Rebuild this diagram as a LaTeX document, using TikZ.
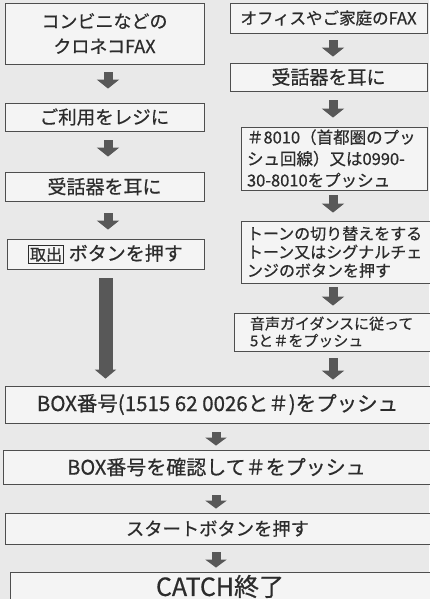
\documentclass[tikz,border=0pt]{standalone}
\usepackage{fontspec}
\setmainfont{Noto Sans CJK JP}[FakeBold=0.6]
\usetikzlibrary{calc,arrows.meta}
\definecolor{paper}{HTML}{E9E9E9}
\definecolor{boxfill}{HTML}{F4F4F4}
\definecolor{boxline}{HTML}{4E4E4E}
\definecolor{ink}{HTML}{2C2C2C}
\definecolor{arrowc}{HTML}{585858}
\tikzset{
  fbox/.style={draw=boxline, line width=0.8pt, fill=boxfill, text=ink, inner sep=0pt, align=center},
  lbox/.style={draw=boxline, line width=0.8pt, fill=boxfill, text=ink, inner xsep=6pt, inner ysep=0pt, align=left},
  sarrow/.style={draw=arrowc, line width=9pt, -{Triangle[width=22pt,length=9pt]}},
  barrow/.style={draw=arrowc, line width=9pt, -{Triangle[width=21pt,length=8pt]}},
  larrow/.style={draw=arrowc, line width=14pt, -{Triangle[width=21pt,length=9pt]}},
}
\newcommand{\fsz}[2]{\fontsize{#1}{#2}\selectfont}
\begin{document}
\begin{tikzpicture}[x=1pt,y=-1pt]
\useasboundingbox[fill=paper] (0,0) rectangle (429,599);
\coordinate (lx) at (108,0);
\coordinate (rx) at (333,0);
\coordinate (bx) at (216,0);
% left column
\node[fbox, minimum width=199pt, minimum height=61pt, font=\fsz{18}{25}] (L1) at (104.5,33.5) {コンビニなどの\\クロネコFAX};
\node[fbox, minimum width=199pt, minimum height=28pt, font=\fsz{18.5}{22}] (L2) at (104.5,117) {ご利用をレジに};
\node[fbox, minimum width=199pt, minimum height=29pt, font=\fsz{19}{22}] (L3) at (104.5,186.5) {受話器を耳に};
\node[fbox, minimum width=197pt, minimum height=30pt, font=\fsz{19}{22}] (L4) at (105.5,254) {{\fsz{16}{18}\setlength{\fboxsep}{1.2pt}\setlength{\fboxrule}{0.6pt}\fbox{取出}}\hspace{5pt}ボタンを押す};
% right column
\node[fbox, minimum width=197pt, minimum height=30pt, font=\fsz{16.5}{20}] (R1) at (328.5,18) {オフィスやご家庭のFAX};
\node[fbox, minimum width=197pt, minimum height=28pt, font=\fsz{19}{22}] (R2) at (328.5,77) {受話器を耳に};
\node[lbox, text width=174pt, minimum height=63pt, font=\fsz{16.5}{21.5}] (R3) at (334,158.5) {＃8010（首都圏のプッ\\シュ回線）又は0990-\\30-8010をプッシュ};
\node[lbox, text width=177pt, minimum height=62pt, font=\fsz{16}{18.5}] (R4) at (335.5,252) {トーンの切り替えをする\\トーン又はシグナルチェ\\ンジのボタンを押す};
\node[lbox, inner xsep=16pt, text width=164pt, minimum height=38pt, font=\fsz{15}{17}] (R5) at (332,332) {音声ガイダンスに従って\\5と＃をプッシュ};
% bottom
\node[fbox, minimum width=425pt, minimum height=37pt, font=\fsz{20.5}{24}] (B1) at (217.5,404.5) {BOX番号(1515 62 0026と＃)をプッシュ};
\node[fbox, minimum width=427pt, minimum height=34pt, font=\fsz{20}{24}] (B2) at (216.5,467) {BOX番号を確認して＃をプッシュ};
\node[fbox, minimum width=425pt, minimum height=31pt, font=\fsz{18.3}{22}] (B3) at (217.5,528.5) {スタートボタンを押す};
\node[fbox, minimum width=420pt, minimum height=29pt, font=\fsz{25}{28}] (B4) at (220,586.5) {CATCH終了};
% arrows
\draw[sarrow] ($(L1.south -| lx)+(0,8)$) -- ($(L2.north -| lx)+(0,-14)$);
\draw[sarrow] ($(L2.south -| lx)+(0,9)$) -- ($(L3.north -| lx)+(0,-15)$);
\draw[sarrow] ($(L3.south -| lx)+(0,12)$) -- ($(L4.north -| lx)+(0,-9)$);
\draw[larrow] ($(L4.south)+(0,9)$) -- ($(B1.north -| L4.south)+(0,-7)$);
\draw[sarrow] ($(R1.south -| rx)+(0,7)$) -- ($(R2.north -| rx)+(0,-6)$);
\draw[sarrow] ($(R2.south -| rx)+(0,9)$) -- ($(R3.north -| rx)+(0,-9)$);
\draw[sarrow] ($(R3.south -| rx)+(0,5)$) -- ($(R4.north -| rx)+(0,-8)$);
\draw[sarrow] ($(R4.south -| rx)+(0,4)$) -- ($(R5.north -| rx)+(0,-7)$);
\draw[sarrow] ($(R5.south -| rx)+(0,7)$) -- ($(B1.north -| rx)+(0,-6)$);
\draw[barrow] ($(B1.south -| bx)+(0,9)$) -- ($(B2.north -| bx)+(0,-4)$);
\draw[barrow] ($(B2.south -| bx)+(0,11)$) -- ($(B3.north -| bx)+(0,-4)$);
\draw[barrow] ($(B3.south -| bx)+(0,8)$) -- ($(B4.north -| bx)+(0,-4)$);
\end{tikzpicture}
\end{document}
